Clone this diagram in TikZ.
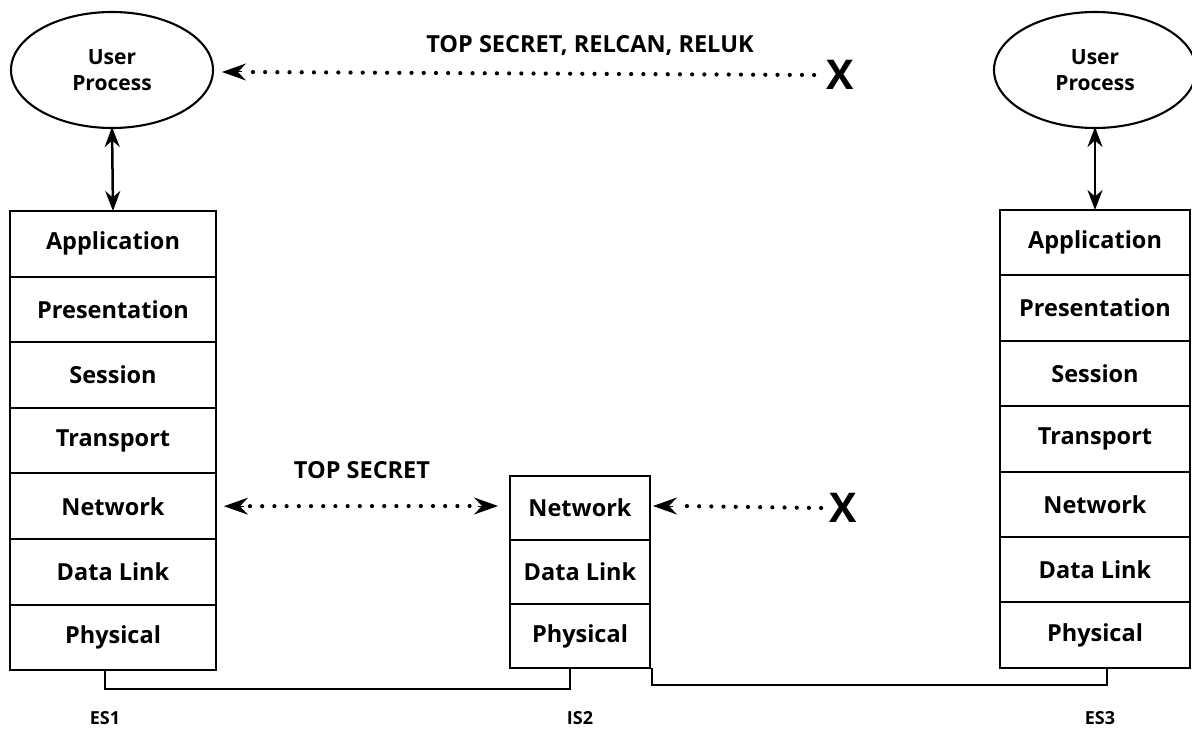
\documentclass[tikz,border=0pt]{standalone}
\usepackage{fontspec}
\setmainfont{Open Sans}
\usetikzlibrary{arrows.meta,shapes.geometric,calc}
\begin{document}
\begin{tikzpicture}[x=1pt,y=-1pt,
  layer/.style={draw,line width=1.9pt,rectangle,inner sep=0pt,outer sep=0pt,
    font=\fontsize{23.5}{25}\selectfont\bfseries},
  lstack/.style={layer,minimum width=206pt,minimum height=65.6pt},
  mstack/.style={layer,minimum width=140pt,minimum height=64pt},
  rstack/.style={layer,minimum width=190pt,minimum height=65.4pt},
  proc/.style={draw,line width=2.1pt,ellipse,minimum width=202pt,minimum height=116pt,
    inner sep=0pt,outer sep=0pt,align=center,font=\fontsize{21}{26}\selectfont\bfseries},
  vlink/.style={line width=2.5pt,{Stealth[length=20pt,width=15pt]}-{Stealth[length=20pt,width=15pt]}},
  dots/.style={line width=4.2pt,line cap=round,dash pattern=on 0pt off 12.2pt},
  tipend/.style={line width=1pt,-{Stealth[length=24pt,width=17pt,inset=8pt]}},
  xmark/.style={inner sep=0pt,font=\fontsize{41}{41}\selectfont\bfseries},
  tag/.style={inner sep=0pt,font=\fontsize{23.5}{25}\selectfont\bfseries},
  sysname/.style={inner sep=0pt,font=\fontsize{18}{20}\selectfont\bfseries},
  wire/.style={line width=2pt}]
\useasboundingbox (0,0) rectangle (1192,735);

% user processes
\node[proc] (up1) at (112,70) {User\\Process};
\node[proc] (up3) at (1095,70) {User\\Process};

% ES1 stack
\node[lstack,anchor=north] (a1) at (113,211) {Application};
\node[lstack,anchor=north] (p1) at (a1.south) {Presentation};
\node[lstack,anchor=north] (s1) at (p1.south) {Session};
\node[lstack,anchor=north] (t1) at (s1.south) {Transport};
\node[lstack,anchor=north] (n1) at (t1.south) {Network};
\node[lstack,anchor=north] (d1) at (n1.south) {Data Link};
\node[lstack,anchor=north] (ph1) at (d1.south) {Physical};

% IS2 stack
\node[mstack,anchor=north] (n2) at (580,476) {Network};
\node[mstack,anchor=north] (d2) at (n2.south) {Data Link};
\node[mstack,anchor=north] (ph2) at (d2.south) {Physical};

% ES3 stack
\node[rstack,anchor=north] (a3) at (1095,210) {Application};
\node[rstack,anchor=north] (p3) at (a3.south) {Presentation};
\node[rstack,anchor=north] (s3) at (p3.south) {Session};
\node[rstack,anchor=north] (t3) at (s3.south) {Transport};
\node[rstack,anchor=north] (n3) at (t3.south) {Network};
\node[rstack,anchor=north] (d3) at (n3.south) {Data Link};
\node[rstack,anchor=north] (ph3) at (d3.south) {Physical};

% process to application
\draw[vlink] ([yshift=1pt]up1.south) -- (a1.north);
\draw[vlink] ([yshift=1pt]up3.south) -- (a3.north);

% rejected label flow at the top
\node[xmark] (x1) at (840,75) {X};
\node[tag] (lbl1) at (590,45) {TOP SECRET, RELCAN, RELUK};
\coordinate (tip1) at ($(up1.east)+(9,2)$);
\draw[dots] ([xshift=-12pt]x1.west) -- ([xshift=26pt]tip1);
\draw[tipend] ([xshift=20pt]tip1) -- (tip1);

% network layer flow ES1 to IS2
\node[tag] (lbl2) at (362,470) {TOP SECRET};
\coordinate (tip2l) at ($(n1.east)+(8,0)$);
\coordinate (tip2r) at ($(n2.west)+(-12,-2)$);
\draw[dots] ([xshift=26pt]tip2l) -- ([xshift=-26pt]tip2r);
\draw[tipend] ([xshift=20pt]tip2l) -- (tip2l);
\draw[tipend] ([xshift=-20pt]tip2r) -- (tip2r);

% rejected flow into IS2
\node[xmark] (x2) at (843,508) {X};
\coordinate (tip3) at ($(n2.east)+(3,-2)$);
\draw[dots] ([xshift=-8pt]x2.west) -- ([xshift=26pt]tip3);
\draw[tipend] ([xshift=20pt]tip3) -- (tip3);

% physical links
\draw[wire] ([xshift=-8pt]ph1.south) -- ++(0,19) -| ([xshift=-10pt]ph2.south);
\draw[wire] ([xshift=2pt]ph2.south east) -- ++(0,17) -| ([xshift=12pt]ph3.south);

% system names
\node[sysname] (es1) at (105,718) {ES1};
\node[sysname] (is2) at (580,718) {IS2};
\node[sysname] (es3) at (1100,718) {ES3};
\end{tikzpicture}
\end{document}
